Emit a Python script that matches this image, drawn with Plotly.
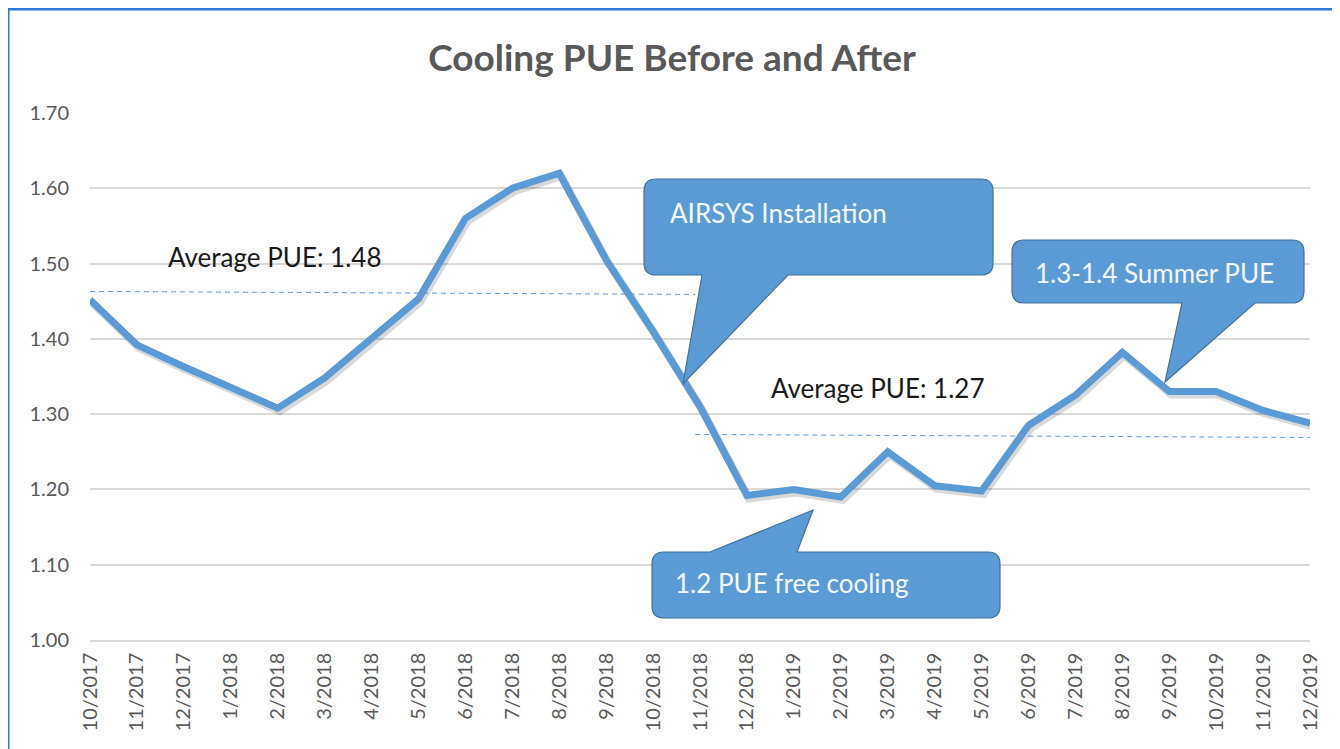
import plotly.graph_objects as go

# ---------------- data ----------------
months = ["10/2017", "11/2017", "12/2017", "1/2018", "2/2018", "3/2018", "4/2018",
          "5/2018", "6/2018", "7/2018", "8/2018", "9/2018", "10/2018", "11/2018",
          "12/2018", "1/2019", "2/2019", "3/2019", "4/2019", "5/2019", "6/2019",
          "7/2019", "8/2019", "9/2019", "10/2019", "11/2019", "12/2019"]
pue = [1.452, 1.392, 1.363, 1.335, 1.308, 1.348, 1.400, 1.453, 1.560, 1.600,
       1.620, 1.505, 1.410, 1.310, 1.192, 1.200, 1.190, 1.250, 1.205, 1.198,
       1.285, 1.325, 1.382, 1.330, 1.330, 1.305, 1.288]
avg_before_x = [0, 12.9]
avg_before_y = [1.463, 1.459]
avg_after_x = [12.9, 26]
avg_after_y = [1.273, 1.269]
y_ticks = [1.00, 1.10, 1.20, 1.30, 1.40, 1.50, 1.60, 1.70]

# ---------------- geometry helpers (page pixel -> paper) ----------------
PAGE_OFF = 8                      # default body margin of the html page
W, H = 1340 - PAGE_OFF, 749 - PAGE_OFF
PL, PR, PT, PB = 90, 1310, 113, 640   # plot area in page pixels
L, T = PL - PAGE_OFF, PT - PAGE_OFF
R = W - (PR - PAGE_OFF)
B = H - (PB - PAGE_OFF)
PW, PH = PR - PL, PB - PT


def px(x):
    return (x - PL) / PW


def py(y):
    return (PB - y) / PH


def callout_path(x0, y0, x1, y1, tail, side, r=12):
    """Rounded rectangle (page pixel coords) with a speech tail. tail=(b0,b1,tx,ty)"""
    b0, b1, tx, ty = tail
    P = lambda x, y: f"{px(x):.5f},{py(y):.5f}"
    d = f"M{P(x0 + r, y0)}"
    if side == "top":
        d += f" L{P(b0, y0)} L{P(tx, ty)} L{P(b1, y0)}"
    d += f" L{P(x1 - r, y0)} Q{P(x1, y0)} {P(x1, y0 + r)}"
    d += f" L{P(x1, y1 - r)} Q{P(x1, y1)} {P(x1 - r, y1)}"
    if side == "bottom":
        d += f" L{P(b1, y1)} L{P(tx, ty)} L{P(b0, y1)}"
    d += f" L{P(x0 + r, y1)} Q{P(x0, y1)} {P(x0, y1 - r)}"
    d += f" L{P(x0, y0 + r)} Q{P(x0, y0)} {P(x0 + r, y0)} Z"
    return d


x_idx = list(range(len(months)))
BLUE = "#5B9BD5"
GRAY = "#595959"
FONT = "Lato"

fig = go.Figure()

fig.add_trace(go.Scatter(x=avg_before_x, y=avg_before_y, mode="lines",
                         line=dict(color=BLUE, width=1, dash="5px,4px"),
                         showlegend=False, hoverinfo="skip"))
fig.add_trace(go.Scatter(x=avg_after_x, y=avg_after_y, mode="lines",
                         line=dict(color=BLUE, width=1, dash="5px,4px"),
                         showlegend=False, hoverinfo="skip"))
# soft shadow (on slightly shifted overlay axes)
fig.add_trace(go.Scatter(x=x_idx, y=pue, mode="lines", xaxis="x2", yaxis="y2",
                         line=dict(color="rgba(0,0,0,0.15)", width=8),
                         hoverinfo="skip", showlegend=False))
# main line (overlay axes identical to the base axes, drawn above the shadow)
fig.add_trace(go.Scatter(x=x_idx, y=pue, mode="lines", xaxis="x3", yaxis="y3",
                         name="Cooling PUE",
                         line=dict(color=BLUE, width=7, shape="linear"),
                         showlegend=False))

ymin, ymax = 1.00, 1.70
xmin, xmax = 0, 26
dy = 3 * (ymax - ymin) / PH
dx = 2 * (xmax - xmin) / PW

shapes = [
    dict(type="rect", xref="paper", yref="paper", x0=px(8), x1=px(1336),
         y0=py(790), y1=py(9), line=dict(color="#2B78D8", width=3),
         fillcolor="rgba(0,0,0,0)", layer="above"),
    dict(type="path", xref="paper", yref="paper",
         path=callout_path(644, 179, 993, 275, (702, 788, 683, 384), "bottom"),
         fillcolor=BLUE, line=dict(color="#41719C", width=1.2), layer="above"),
    dict(type="path", xref="paper", yref="paper",
         path=callout_path(1012, 240, 1304, 303, (1182, 1255, 1165, 382), "bottom"),
         fillcolor=BLUE, line=dict(color="#41719C", width=1.2), layer="above"),
    dict(type="path", xref="paper", yref="paper",
         path=callout_path(652, 552, 1000, 618, (710, 797, 813, 510), "top"),
         fillcolor=BLUE, line=dict(color="#41719C", width=1.2), layer="above"),
]

TXT = 26
annotations = [
    dict(text="Average PUE: 1.48", x=3.94, y=1.509, xref="x", yref="y",
         xanchor="center", yanchor="middle", showarrow=False,
         font=dict(family=FONT, size=TXT, color="#1a1a1a")),
    dict(text="Average PUE: 1.27", x=16.8, y=1.335, xref="x", yref="y",
         xanchor="center", yanchor="middle", showarrow=False,
         font=dict(family=FONT, size=TXT, color="#1a1a1a")),
    dict(text="AIRSYS Installation", x=px(668), y=py(213), xref="paper", yref="paper",
         xanchor="left", yanchor="middle", showarrow=False,
         font=dict(family=FONT, size=TXT, color="#F4F8FC")),
    dict(text="1.3-1.4 Summer PUE", x=px(1033), y=py(273), xref="paper", yref="paper",
         xanchor="left", yanchor="middle", showarrow=False,
         font=dict(family=FONT, size=TXT, color="#F4F8FC")),
    dict(text="1.2 PUE free cooling", x=px(673), y=py(583), xref="paper", yref="paper",
         xanchor="left", yanchor="middle", showarrow=False,
         font=dict(family=FONT, size=TXT, color="#F4F8FC")),
]

fig.update_layout(
    width=W, height=H,
    margin=dict(l=L, r=R, t=T, b=B, pad=0),
    paper_bgcolor="white", plot_bgcolor="white",
    title=dict(text="<b>Cooling PUE Before and After</b>",
               x=(672 - PAGE_OFF) / W, xanchor="center",
               y=1 - (58 - PAGE_OFF) / H, yanchor="middle", xref="container",
               font=dict(family=FONT, size=37, color=GRAY)),
    xaxis=dict(range=[xmin, xmax], tickmode="array", tickvals=x_idx, ticktext=months,
               tickangle=-90, showgrid=False, zeroline=False, showline=True,
               linecolor="#D9D9D9", linewidth=1.5, ticks="",
               tickfont=dict(family=FONT, size=20, color=GRAY), ticklabelstandoff=3),
    yaxis=dict(range=[ymin, ymax], tickmode="array", tickvals=y_ticks,
               ticktext=[f"{v:.2f}" for v in y_ticks], showgrid=True,
               gridcolor="#D9D9D9", gridwidth=1.5, zeroline=False, showline=False,
               tickfont=dict(family=FONT, size=20, color=GRAY), ticklabelstandoff=20),
    xaxis2=dict(range=[xmin - dx, xmax - dx], overlaying="x", visible=False),
    yaxis2=dict(range=[ymin + dy, ymax + dy], overlaying="y", visible=False),
    xaxis3=dict(range=[xmin, xmax], overlaying="x", visible=False),
    yaxis3=dict(range=[ymin, ymax], overlaying="y", visible=False),
    shapes=shapes,
    annotations=annotations,
    showlegend=False,
)

fig.write_html("out.html")
